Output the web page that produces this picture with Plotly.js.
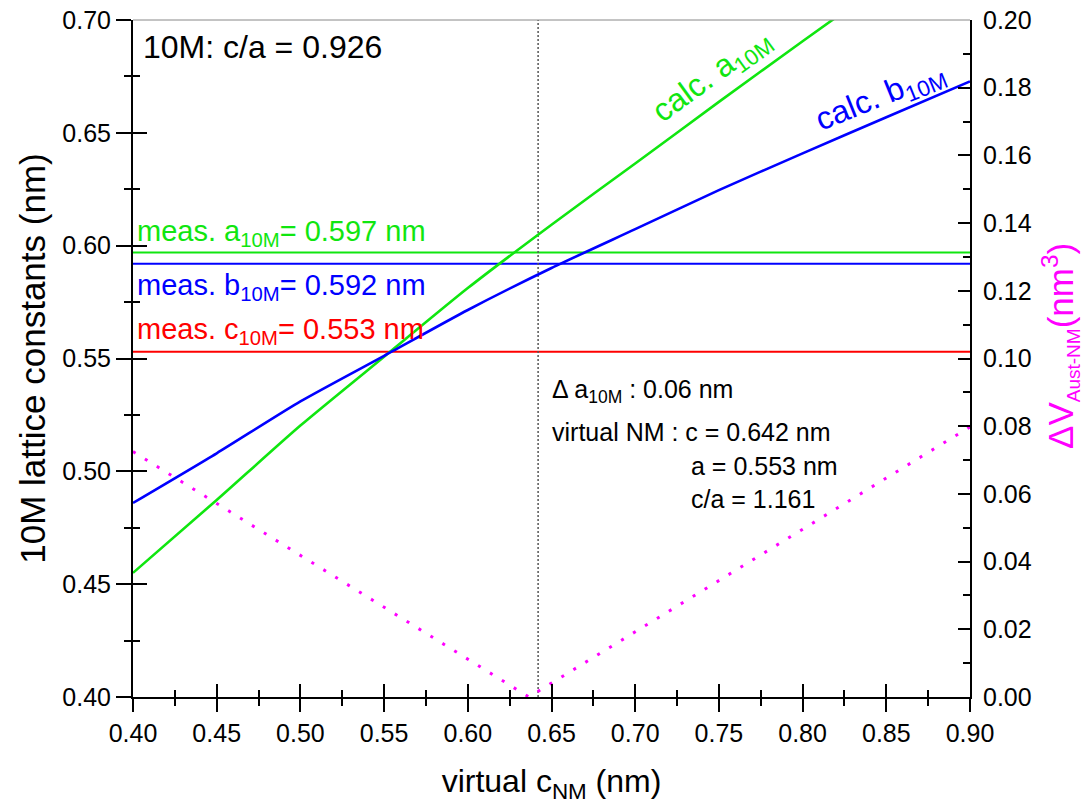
<!DOCTYPE html>
<html>
<head>
<meta charset="utf-8">
<script src="https://cdn.plot.ly/plotly-3.0.1.min.js"></script>
<style>html,body{margin:0;padding:0;background:#fff;}#chart{width:1085px;height:807px;}</style>
</head>
<body>
<div id="chart"></div>
<script>
// ---- data ----
const cNM = [0.40, 0.45, 0.50, 0.55, 0.60, 0.65, 0.70, 0.75, 0.80, 0.85, 0.90];
const calcA = [0.455, 0.4873, 0.5203, 0.5508, 0.5812, 0.6093, 0.6364, 0.6637, 0.6906, 0.717, 0.743];
const calcB = [0.486, 0.508, 0.531, 0.5512, 0.5715, 0.5901, 0.6073, 0.6246, 0.6409, 0.6569, 0.6728];
const measA = 0.597, measB = 0.592, measC = 0.553;
const measRange = [0.40, 0.90];
const dVx = [0.40, 0.45, 0.50, 0.55, 0.60, 0.6365, 0.65, 0.70, 0.75, 0.80, 0.85, 0.90];
const dVy = [0.0725, 0.0572, 0.0418, 0.0265, 0.0111, 0.0, 0.0041, 0.0193, 0.0344, 0.0495, 0.0647, 0.0798];
const virtualC = 0.642;

const GREEN = '#10e610', BLUE = '#0000ff', RED = '#ff0000', MAG = '#ff00ff';
const FONT = 'Liberation Sans, Arial, sans-serif';

const traces = [
  {x: measRange, y: [measA, measA], mode: 'lines', line: {color: GREEN, width: 2}, xaxis: 'x', yaxis: 'y'},
  {x: measRange, y: [measB, measB], mode: 'lines', line: {color: BLUE, width: 2}, xaxis: 'x', yaxis: 'y'},
  {x: measRange, y: [measC, measC], mode: 'lines', line: {color: RED, width: 2}, xaxis: 'x', yaxis: 'y'},
  {x: [virtualC, virtualC], y: [0.40, 0.70], mode: 'lines', line: {color: '#555555', width: 1.5, dash: '2px,2px'}, xaxis: 'x', yaxis: 'y'},
  {x: cNM, y: calcA, mode: 'lines', line: {color: GREEN, width: 2.6, shape: 'spline', smoothing: 0.6}, xaxis: 'x', yaxis: 'y'},
  {x: cNM, y: calcB, mode: 'lines', line: {color: BLUE, width: 2.6, shape: 'spline', smoothing: 0.6}, xaxis: 'x', yaxis: 'y'},
  {x: dVx, y: dVy, mode: 'lines', line: {color: MAG, width: 3, dash: '3px,11px'}, xaxis: 'x', yaxis: 'y2'},
  {x: [], y: [], mode: 'lines', xaxis: 'x3', yaxis: 'y3', hoverinfo: 'skip'}
];

function P(X, Y) { return {x: (X - 133) / 837, y: (697 - Y) / 677, xref: 'paper', yref: 'paper'}; }
function ann(X, Y, text, size, color, opts) {
  return Object.assign(P(X, Y), {text: text, showarrow: false, xanchor: 'left', yanchor: 'middle',
    font: {family: FONT, size: size, color: color}}, opts || {});
}

const annotations = [
  ann(141, 47, '10M: c/a = 0.926', 32, 'black'),
  ann(712, 76, 'calc. a<sub>10M</sub>', 32, GREEN, {xanchor: 'center', textangle: -36}),
  ann(881, 98, 'calc. b<sub>10M</sub>', 32, BLUE, {xanchor: 'center', textangle: -22}),
  ann(135, 233, 'meas. a<sub>10M</sub>= 0.597 nm', 29, GREEN),
  ann(135, 287, 'meas. b<sub>10M</sub>= 0.592 nm', 29, BLUE),
  ann(135, 331, 'meas. c<sub>10M</sub>= 0.553 nm', 29, RED),
  ann(550, 391, '\u0394 a<sub>10M</sub> : 0.06 nm', 25, 'black'),
  ann(550, 432, 'virtual NM : c = 0.642 nm', 25, 'black'),
  ann(689, 466, 'a = 0.553 nm', 25, 'black'),
  ann(689, 499, 'c/a = 1.161', 25, 'black'),
  ann(1060, 346, '\u0394V<sub><span style="font-size:19px">Aust-NM</span></sub>(nm<sup>3</sup>)', 35, MAG, {xanchor: 'center', textangle: -90})
];

const tickFont = {family: FONT, size: 25, color: 'black'};
const layout = {
  width: 1085, height: 807,
  margin: {l: 133, r: 115, t: 20, b: 110},
  paper_bgcolor: 'white', plot_bgcolor: 'white',
  showlegend: false,
  font: {family: FONT, color: 'black'},
  xaxis: {
    range: [0.40, 0.90], tick0: 0.40, dtick: 0.05, tickformat: '.2f',
    showgrid: false, zeroline: false, showline: true, linecolor: 'black', linewidth: 2,
    ticks: 'outside', ticklen: 13, tickwidth: 2, tickcolor: 'black',
    minor: {ticks: 'outside', ticklen: 7, tickwidth: 2, tickcolor: 'black', dtick: 0.025, tick0: 0.40, showgrid: false},
    tickfont: tickFont,
    title: {text: 'virtual c<sub>NM</sub> (nm)', font: {family: FONT, size: 32, color: 'black'}, standoff: 24}
  },
  xaxis3: {
    overlaying: 'x', anchor: 'y', side: 'bottom',
    range: [0.40, 0.90], tick0: 0.40, dtick: 0.05, showticklabels: false,
    showgrid: false, zeroline: false, showline: false,
    ticks: 'inside', ticklen: 13, tickwidth: 2, tickcolor: 'black',
    minor: {ticks: 'inside', ticklen: 7, tickwidth: 2, tickcolor: 'black', dtick: 0.025, tick0: 0.40, showgrid: false}
  },
  yaxis: {
    range: [0.40, 0.70], tick0: 0.40, dtick: 0.05, tickformat: '.2f',
    showgrid: false, zeroline: false, showline: true, linecolor: 'black', linewidth: 2,
    ticks: 'outside', ticklen: 15, tickwidth: 2, tickcolor: 'black',
    minor: {ticks: 'outside', ticklen: 7, tickwidth: 2, tickcolor: 'black', dtick: 0.025, tick0: 0.40, showgrid: false},
    tickfont: tickFont,
    title: {text: '10M lattice constants (nm)', font: {family: FONT, size: 35, color: 'black'}, standoff: 6}
  },
  yaxis3: {
    overlaying: 'y', anchor: 'x', side: 'left',
    range: [0.40, 0.70], tick0: 0.40, dtick: 0.05, showticklabels: false,
    showgrid: false, zeroline: false, showline: false,
    ticks: 'inside', ticklen: 14, tickwidth: 2, tickcolor: 'black',
    minor: {ticks: 'inside', ticklen: 7, tickwidth: 2, tickcolor: 'black', dtick: 0.025, tick0: 0.40, showgrid: false}
  },
  yaxis2: {
    overlaying: 'y', side: 'right', anchor: 'x',
    range: [0, 0.20], tick0: 0, dtick: 0.02, tickformat: '.2f',
    showgrid: false, zeroline: false, showline: true, linecolor: 'black', linewidth: 2,
    ticks: 'inside', ticklen: 12, tickwidth: 2, tickcolor: 'black',
    minor: {ticks: 'inside', ticklen: 7, tickwidth: 2, tickcolor: 'black', dtick: 0.01, tick0: 0, showgrid: false},
    tickfont: tickFont, ticklabelstandoff: 6
  },
  shapes: [
    {type: 'line', xref: 'paper', yref: 'paper', x0: 0, x1: 1, y0: 1, y1: 1, line: {color: '#888888', width: 1}}
  ],
  annotations: annotations
};

Plotly.newPlot('chart', traces, layout, {displayModeBar: false, staticPlot: true});
</script>
</body>
</html>
